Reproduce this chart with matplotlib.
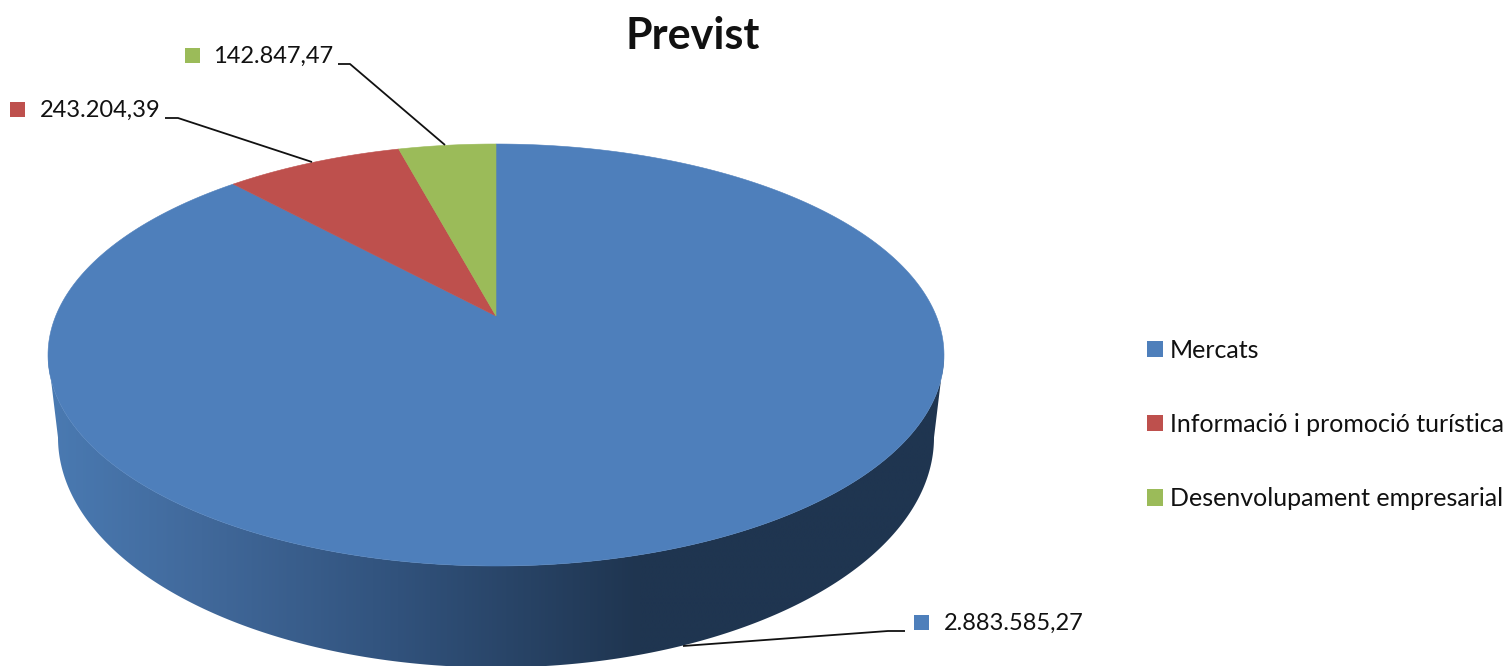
import numpy as np
import matplotlib
matplotlib.use("Agg")
import matplotlib.pyplot as plt
from matplotlib.colors import LinearSegmentedColormap
from matplotlib.patches import Patch, Polygon, Rectangle

categories = ["Mercats", "Informació i promoció turística", "Desenvolupament empresarial"]
values = [2883585.27, 243204.39, 142847.47]
value_labels = ["2.883.585,27", "243.204,39", "142.847,47"]
colors = ["#4E7FBB", "#BE504D", "#9BBB59"]
title = "Previst"

plt.rcParams["font.family"] = ["Lato", "DejaVu Sans"]
W, H = 1511, 666
fig = plt.figure(figsize=(W / 100, H / 100), dpi=100)
ax = fig.add_axes([0, 0, 1, 1])

CX, CY, RX, RY = 496, 355, 448, 211      # top face
BCX, BCY, BRX, BRY = 496, 437.5, 438, 230  # lower rim
APEX = (496, 316)
K = 0.79


def view_angle(t):
    # foreshortening of the perspective view around the apex
    return np.arctan2(K * np.sin(t), np.cos(t))


# side wall with horizontal shading
a = np.linspace(np.pi / 2, 3 * np.pi / 2, 300)
top_x, top_y = CX + RX * np.sin(a), CY - RY * np.cos(a)
a2 = a[::-1]
low_x, low_y = BCX + BRX * np.sin(a2), BCY - BRY * np.cos(a2)
wall = Polygon(np.r_[np.c_[top_x, top_y], np.c_[low_x, low_y]], closed=True,
               fc="none", ec="none", transform=ax.transData)
ax.add_patch(wall)
cmap = LinearSegmentedColormap.from_list(
    "side",
    [(0.0, "#4A7AB2"), (0.17, "#41699B"), (0.39, "#31527C"),
     (0.66, "#1F3550"), (1.0, "#1F3550")],
)
img = ax.imshow(np.linspace(0, 1, 512)[None, :], extent=(48, 944, 670, 340),
                cmap=cmap, aspect="auto", zorder=1, interpolation="bilinear")
img.set_clip_path(wall)

# top face wedges, clockwise from twelve o'clock
fracs = np.array(values) / np.sum(values)
edges = np.r_[0, np.cumsum(fracs)] * 2 * np.pi
for i, col in enumerate(colors):
    t = np.linspace(edges[i], edges[i + 1], 400)
    a_t = np.unwrap(view_angle(t))
    xs, ys = CX + RX * np.sin(a_t), CY - RY * np.cos(a_t)
    pts = np.r_[[APEX], np.c_[xs, ys]]
    ax.add_patch(Polygon(pts, closed=True, fc=col, ec=col, lw=0.4, zorder=2))

# data labels with leader lines
label_boxes = [(914, 622, 944), (10, 109, 40), (185, 55, 213.5)]
leaders = [
    [(905, 631), (888, 631), (683, 646)],
    [(165, 118), (178, 118), (312, 162)],
    [(338, 64), (350, 64), (445, 145)],
]
for (mx, my, tx), txt, col, ld in zip(label_boxes, value_labels, colors, leaders):
    ax.add_patch(Rectangle((mx, my - 7.5), 15, 15, fc=col, ec="none", zorder=3))
    ax.text(tx, my + 1.5, txt, fontsize=17, color="#111111", va="center", ha="left", zorder=4)
    ld = np.array(ld)
    ax.plot(ld[:, 0], ld[:, 1], color="#111111", lw=1.3, zorder=3, solid_capstyle="butt")

ax.text(693, 36, title, fontsize=31, fontweight="bold", color="#111111",
        ha="center", va="center")

handles = [Patch(fc=c, ec="none") for c in colors]
ax.legend(handles, categories, loc="center left", bbox_to_anchor=(1147 / W, 1 - 424.5 / H),
          bbox_transform=fig.transFigure, frameon=False, fontsize=18,
          handlelength=0.64, handleheight=0.64, handletextpad=0.28,
          labelspacing=2.05, borderpad=0, borderaxespad=0, labelcolor="#111111")

ax.set_xlim(0, W)
ax.set_ylim(H, 0)
ax.axis("off")
fig.savefig("out.png", dpi=100, facecolor="white")
